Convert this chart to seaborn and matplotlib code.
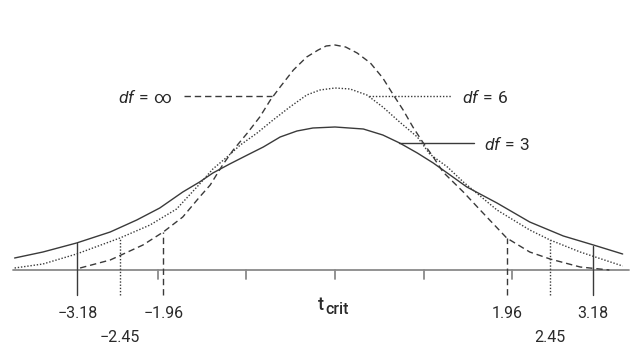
import matplotlib
matplotlib.use("Agg")
import matplotlib.pyplot as plt
import seaborn as sns
import pandas as pd

# ---- data (x in t units, y in relative height) ----
x_inf = [-2.88, -2.54, -2.17, -1.94, -1.72, -1.53, -1.41, -1.27, -1.15, -0.99, -0.85, -0.73,
         -0.62, -0.47, -0.32, -0.19, -0.10, 0.0, 0.12, 0.25, 0.40, 0.54, 0.66, 0.77, 0.88,
         0.99, 1.11, 1.22, 1.45, 1.64, 1.94, 2.20, 2.43, 2.77, 3.10]
y_inf = [0.02, 0.10, 0.25, 0.38, 0.53, 0.73, 0.85, 1.05, 1.20, 1.37, 1.53, 1.70, 1.83, 2.00,
         2.13, 2.20, 2.24, 2.25, 2.23, 2.17, 2.07, 1.92, 1.75, 1.60, 1.43, 1.28, 1.13, 0.98,
         0.78, 0.60, 0.32, 0.18, 0.11, 0.03, 0.0]

x_df6 = [-3.62, -3.30, -2.92, -2.43, -2.09, -1.79, -1.55, -1.38, -1.22, -1.07, -0.88, -0.70,
         -0.51, -0.32, -0.17, 0.0, 0.17, 0.36, 0.54, 0.73, 0.93, 1.07, 1.27, 1.45, 1.83,
         2.20, 2.43, 2.77, 3.25]
y_df6 = [0.02, 0.06, 0.16, 0.32, 0.45, 0.61, 0.84, 1.01, 1.13, 1.25, 1.37, 1.50, 1.63, 1.75,
         1.80, 1.82, 1.81, 1.75, 1.63, 1.48, 1.33, 1.16, 1.03, 0.88, 0.60, 0.40, 0.30, 0.18,
         0.04]

x_df3 = [-3.62, -3.30, -2.92, -2.54, -2.24, -1.98, -1.72, -1.53, -1.38, -1.19, -0.99, -0.81,
         -0.62, -0.43, -0.25, 0.0, 0.32, 0.54, 0.73, 0.93, 1.11, 1.30, 1.49, 1.83, 2.20,
         2.58, 2.92, 3.25]
y_df3 = [0.12, 0.18, 0.27, 0.38, 0.50, 0.62, 0.78, 0.88, 0.97, 1.06, 1.15, 1.23, 1.33, 1.39,
         1.42, 1.43, 1.41, 1.35, 1.27, 1.17, 1.07, 0.95, 0.83, 0.67, 0.48, 0.34, 0.25, 0.16]

# critical values: drawn position, label text, height of curve at left / right line
crit_pos = [1.94, 2.43, 2.91]
crit_labels = ["1.96", "2.45", "3.18"]
crit_top_left = [0.38, 0.32, 0.27]
crit_top_right = [0.32, 0.30, 0.24]

tick_pos = [-2, -1, 0, 1, 2]
series_values = ["\\infty", "6", "3"]

# ---- style ----
sns.set_theme(style="white")
plt.rcParams["font.family"] = ["Roboto", "DejaVu Sans"]
plt.rcParams["mathtext.fontset"] = "custom"
plt.rcParams["mathtext.rm"] = "Roboto"
plt.rcParams["mathtext.it"] = "Roboto:italic"

CURVE = "#3a3a3a"
AXIS = "#8a8a8a"
TEXT = "#2a2a2a"
LW = 1.0
DASH = (4.6, 2.8)
DOT = (1.0, 1.3)

fig = plt.figure(figsize=(6.37, 3.63), dpi=100)
ax = fig.add_axes([0, 0, 1, 1])

df_inf = pd.DataFrame({"x": x_inf, "y": y_inf})
df_6 = pd.DataFrame({"x": x_df6, "y": y_df6})
df_3 = pd.DataFrame({"x": x_df3, "y": y_df3})

# axis line + ticks
ax.plot([-3.64, 3.32], [0, 0], color=AXIS, lw=1.3, zorder=1)
for t in tick_pos:
    ax.plot([t, t], [0, -0.085], color=AXIS, lw=1.3, zorder=1)

sns.lineplot(data=df_inf, x="x", y="y", ax=ax, color=CURVE, lw=LW, zorder=3)
ax.lines[-1].set_dashes(DASH)
sns.lineplot(data=df_6, x="x", y="y", ax=ax, color=CURVE, lw=LW, zorder=3)
ax.lines[-1].set_dashes(DOT)
sns.lineplot(data=df_3, x="x", y="y", ax=ax, color=CURVE, lw=LW, zorder=3)
for ln in ax.lines[-3:]:
    ln.set_solid_joinstyle("round")
    ln.set_dash_joinstyle("round")

styles = [DASH, DOT, None]
label_y = [-0.43, -0.68, -0.43]
for i, (p, lab) in enumerate(zip(crit_pos, crit_labels)):
    for sgn, top in ((-1, crit_top_left[i]), (1, crit_top_right[i])):
        ln, = ax.plot([sgn * p, sgn * p], [-0.25, top], color=CURVE, lw=LW, zorder=4)
        if styles[i] is not None:
            ln.set_dashes(styles[i])
        txt = lab if sgn > 0 else "\u2212" + lab
        ax.text(sgn * p, label_y[i], txt, ha="center", va="center",
                fontsize=11.5, color=TEXT)

# t_crit
ax.text(-0.19, -0.40, "t", ha="left", va="baseline", fontsize=13, color=TEXT,
        fontweight="medium")
ax.text(-0.11, -0.44, "crit", ha="left", va="baseline", fontsize=11.5, color=TEXT,
        fontweight="medium")

# labels with leaders
def df_label(v):
    return r"$\mathit{df}\,\mathrm{=}\," + v + "$"

ln, = ax.plot([-1.71, -0.71], [1.74, 1.74], color=CURVE, lw=LW)
ln.set_dashes(DASH)
ax.text(-1.83, 1.73, df_label(series_values[0]), ha="right", va="center",
        fontsize=12.5, color=TEXT)
ln, = ax.plot([0.38, 1.32], [1.74, 1.74], color=CURVE, lw=LW)
ln.set_dashes(DOT)
ax.text(1.44, 1.73, df_label(series_values[1]), ha="left", va="center",
        fontsize=12.5, color=TEXT)
ax.plot([0.72, 1.57], [1.27, 1.27], color=CURVE, lw=LW)
ax.text(1.68, 1.26, df_label(series_values[2]), ha="left", va="center",
        fontsize=12.5, color=TEXT)

ax.set_xlim(-3.785, 3.412)
ax.set_ylim(-0.93, 2.70)
ax.set_axis_off()
if ax.get_legend() is not None:
    ax.get_legend().remove()

fig.savefig("out.png", dpi=100, facecolor="white")
